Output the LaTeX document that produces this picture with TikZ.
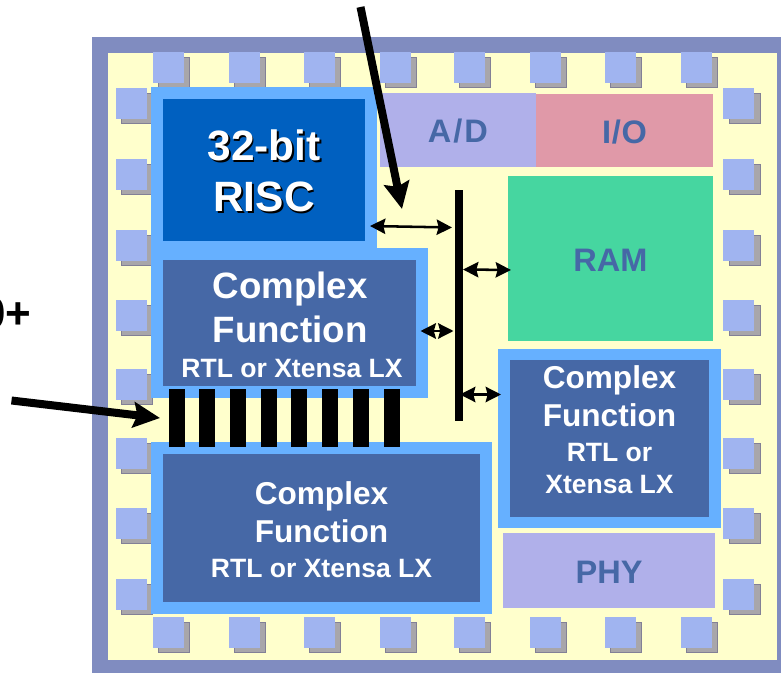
\documentclass[tikz,border=0pt]{standalone}
\usepackage{fontspec}
\setmainfont{Liberation Sans}
\usepackage{xcolor}
\usetikzlibrary{
    arrows.meta,
    positioning,
    fit
}
\definecolor{ChipEdge}{RGB}{128,140,192}
\definecolor{ChipCore}{RGB}{255,255,204}
\definecolor{PadBlue}{RGB}{160,180,240}
\definecolor{PadShade}{RGB}{168,166,170}
\definecolor{PadLine}{RGB}{130,128,150}
\definecolor{FrameBlue}{RGB}{102,176,255}
\definecolor{RiscBlue}{RGB}{0,96,192}
\definecolor{FuncBlue}{RGB}{70,104,166}
\definecolor{SoftLilac}{RGB}{176,176,234}
\definecolor{SoftRose}{RGB}{224,153,168}
\definecolor{RamGreen}{RGB}{70,214,160}
\newcommand{\shadowed}[1]{\leavevmode\rlap{\kern1.4pt\raisebox{-1.4pt}{\textcolor{black}{#1}}}#1}
\newcommand{\rtlfont}{\fontsize{19.9}{25}\selectfont}
\tikzset{
  box/.style      = {inner sep=0pt, outer sep=0pt, align=center},
  chip/.style     = {box, fill=ChipEdge},
  core/.style     = {box, fill=ChipCore},
  frameblk/.style = {box, fill=FrameBlue},
  funcblk/.style  = {box, fill=FuncBlue},
  riscblk/.style  = {box, fill=RiscBlue},
  softblk/.style  = {box},
  functxt/.style  = {box, text=white, font=\bfseries\fontsize{23.7}{28.5}\selectfont},
  risctxt/.style  = {box, text=white, font=\bfseries\fontsize{31.8}{38.5}\selectfont},
  softtxt/.style  = {box, yshift=-1pt, text=FuncBlue, font=\bfseries\fontsize{24.4}{28}\selectfont},
  pad/.style      = {box, fill=PadBlue, minimum width=23.5pt, minimum height=23pt},
  padshade/.style = {box, fill=PadShade, draw=PadLine, line width=0.3pt,
                     minimum width=23.2pt, minimum height=22.7pt},
  pin/.style      = {box, fill=black},
  busarr/.style   = {{Stealth[length=11.5pt,width=11.5pt,inset=1.5pt]}-{Stealth[length=11.5pt,width=11.5pt,inset=1.5pt]},
                     line width=1.9pt, black},
  bigarr/.style   = {-{Stealth[length=20pt,width=19pt,inset=3pt]}, line width=6pt, black}
}
\begin{document}
\begin{tikzpicture}[x=0.75pt,y=-0.75pt]
\useasboundingbox (0,0) rectangle (781,673);
\node[chip, fit={(92,37) (781,673)}] (chipedge) {};
\node[core, fit={(108,53) (777,660)}] (chipcore) {};
\foreach \px in {153,229,304,380,454,530,605,681} {
  \node[padshade, anchor=north west] (padTs\px) at (\px+5,57) {};
  \node[pad, anchor=north west] (padT\px) at (\px,52) {};
  \node[padshade, anchor=north west] (padBs\px) at (\px+5,622) {};
  \node[pad, anchor=north west] (padB\px) at (\px,617) {};
}
\foreach \py in {88,159,230,300,369,438,508,579} {
  \node[padshade, anchor=north west] (padLs\py) at (121,\py+5) {};
  \node[pad, anchor=north west] (padL\py) at (116,\py) {};
  \node[padshade, anchor=north west] (padRs\py) at (729,\py+5) {};
  \node[pad, anchor=north west] (padR\py) at (723,\py) {};
}
\node[frameblk, fit={(151,87) (377,250)}] (riscframe) {};
\node[frameblk, fit={(151,248) (428,398)}] (topframe) {};
\node[frameblk, fit={(151,442) (491.5,614)}] (lowframe) {};
\node[frameblk, fit={(498,349) (721,528)}] (sideframe) {};
\node[riscblk, fit={(163,99) (365,241)}] (risc) {};
\node[risctxt] (risctext) at (264,172) {\shadowed{32-bit}\\\shadowed{RISC}};
\node[funcblk, fit={(163,260) (416,386)}] (functop) {};
\node[functxt, font=\bfseries\fontsize{27.5}{33}\selectfont] (functoptext) at (290,325)
     {Complex\\Function\\[-7pt]{\rtlfont\hspace*{3pt}RTL or Xtensa LX}};
\node[funcblk, fit={(163,454) (480,602)}] (funclow) {};
\node[functxt] (funclowtext) at (321.5,530)
     {Complex\\Function\\[-2.5pt]{\rtlfont RTL or Xtensa LX}};
\node[funcblk, fit={(510,360) (709,517)}] (funcside) {};
\node[functxt] (funcsidetext) at (609.5,429.5)
     {Complex\\Function\\[-2.5pt]{\rtlfont RTL or}\\[-4.5pt]{\rtlfont Xtensa LX}};
\node[softblk, fill=SoftLilac, fit={(380,93) (536,167)}] (adc) {};
\node[softtxt] (adctext) at (adc.center) {A\kern1.5pt/\kern1.5pt D};
\node[softblk, fill=SoftRose, fit={(536,94) (713,167)}] (io) {};
\node[softtxt] (iotext) at (io.center) {I\kern0.5pt/\kern0.5pt O};
\node[softblk, fill=RamGreen, fit={(508,176) (713,341)}] (ram) {};
\node[softtxt] (ramtext) at (ram.center) {RAM};
\node[softblk, fill=SoftLilac, fit={(503,533) (715,608)}] (phy) {};
\node[softtxt] (phytext) at (phy.center) {PHY};
\node[pin, fit={(455,190) (463,421)}] (bus) {};
\foreach \i/\px in {1/168.5,2/199,3/230,4/260.5,5/291,6/322,7/352.5,8/383.5} {
  \node[pin, fit={(\px,389) (\px+16,447)}] (pin\i) {};
}
\draw[busarr] ([shift={(5,56)}]risc.east) -- ([shift={(-3,-78)}]bus.west);
\draw[busarr] ([shift={(0,-36)}]bus.east) -- ([shift={(3,11.5)}]ram.west);
\draw[busarr] ([shift={(4.5,8)}]functop.east) -- ([shift={(-1.5,25.5)}]bus.west);
\draw[busarr] ([shift={(-3,89)}]bus.east) -- ([shift={(3,-44)}]sideframe.west);
\coordinate (topstart) at (360.5,7);
\coordinate (leftstart) at (11.5,400.5);
\draw[bigarr] (topstart) -- ([shift={(-61,19)}]bus.north east);
\draw[bigarr] (leftstart) -- ([shift={(-8.5,29)}]pin1.north west);
\node[box, anchor=base east, font=\bfseries\fontsize{33}{38}\selectfont] (count) at (31.5,329) {0+};
\end{tikzpicture}
\end{document}
